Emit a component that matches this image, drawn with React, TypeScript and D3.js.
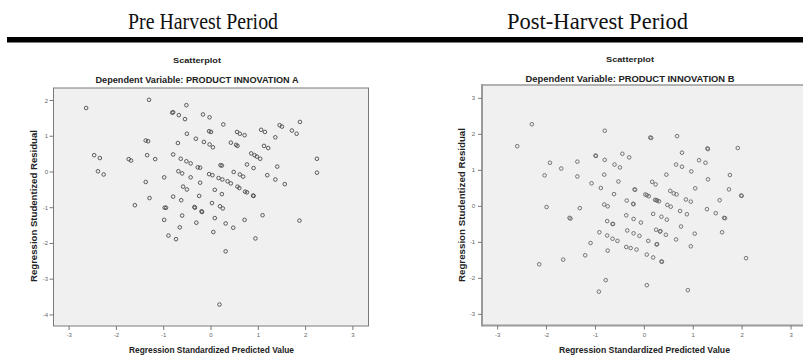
import React from "react";
import * as d3 from "d3";

// ---------- DATA ----------
const headers = ["Pre Harvest Period", "Post-Harvest Period"];
const chartTitle = "Scatterplot";
const depVarA = "Dependent Variable: PRODUCT INNOVATION A";
const depVarB = "Dependent Variable: PRODUCT INNOVATION B";
const xLabel = "Regression Standardized Predicted Value";
const yLabel = "Regression Studentized Residual";
const xTicks = [-3, -2, -1, 0, 1, 2, 3];
const yTicksPre = [2, 1, 0, -1, -2, -3, -4];
const yTicksPost = [3, 2, 1, 0, -1, -2, -3];

const prePoints: [number, number][] = [
  [-2.64, 1.79], [-1.31, 2.02], [-0.52, 1.87], [-0.82, 1.66], [-0.8, 1.67], [-0.68, 1.59],
  [-0.55, 1.48], [-0.17, 1.61], [-0.03, 1.53], [0.26, 1.33], [-0.51, 1.07], [-0.7, 0.81],
  [-0.32, 0.93], [-0.15, 0.84], [-0.03, 0.77], [0.04, 0.69], [-0.04, 1.14], [0.0, 1.12],
  [0.55, 1.12], [0.61, 1.07], [0.71, 1.03], [0.42, 0.82], [0.53, 0.76], [0.56, 0.73],
  [1.06, 1.18], [1.14, 1.12], [1.36, 0.97], [1.45, 1.31], [1.5, 1.27], [1.71, 1.16],
  [1.81, 1.07], [1.88, 1.4], [1.12, 0.73], [1.21, 0.67], [-1.38, 0.88], [-1.33, 0.86],
  [-2.47, 0.47], [-2.35, 0.39], [-2.39, 0.02], [-2.27, -0.07], [-1.74, 0.36], [-1.69, 0.32],
  [-1.35, 0.47], [-1.18, 0.36], [-0.8, 0.49], [-0.64, 0.37], [-0.52, 0.3], [-0.43, 0.24],
  [-0.28, 0.13], [-0.23, 0.12], [-0.69, 0.02], [-0.61, -0.04], [-0.43, -0.15], [-0.04, -0.06],
  [0.03, -0.09], [-0.23, -0.3], [0.2, 0.19], [0.23, 0.18], [0.48, 0.0], [0.61, -0.07],
  [0.68, -0.13], [0.85, 0.52], [0.92, 0.47], [0.97, 0.43], [1.04, 0.37], [0.76, 0.21],
  [0.9, 0.11], [1.4, 0.15], [1.19, -0.09], [1.36, -0.21], [1.56, -0.34], [2.24, 0.37],
  [2.24, -0.02], [-1.38, -0.28], [-0.99, -0.15], [0.16, -0.17], [0.24, -0.21], [0.35, -0.26],
  [0.42, -0.32], [0.56, -0.41], [0.6, -0.45], [0.72, -0.55], [0.76, -0.57], [0.89, -0.66],
  [0.9, -0.67], [-0.59, -0.41], [-0.51, -0.49], [0.08, -0.5], [0.23, -0.62], [-1.3, -0.73],
  [-0.8, -0.69], [-0.63, -0.79], [-0.25, -0.67], [-1.61, -0.93], [0.02, -0.87], [0.19, -0.96],
  [0.25, -1.02], [-0.98, -1.0], [-0.95, -1.0], [-0.35, -0.98], [-0.34, -1.0], [-0.2, -1.1],
  [-0.19, -1.12], [-0.61, -1.22], [-0.99, -1.34], [-0.31, -1.42], [0.08, -1.29], [0.31, -1.44],
  [0.47, -1.56], [0.71, -1.34], [1.09, -1.21], [1.87, -1.36], [-0.66, -1.55], [0.05, -1.68],
  [-0.9, -1.78], [-0.74, -1.88], [0.94, -1.86], [0.31, -2.22], [0.18, -3.71],
];

const postPoints: [number, number][] = [
  [-2.6, 1.67], [-2.3, 2.28], [-0.81, 2.1], [0.12, 1.91], [0.14, 1.9], [0.67, 1.95],
  [1.91, 1.62], [1.29, 1.61], [1.3, 1.59], [-1.93, 1.21], [-1.7, 1.05], [-2.04, 0.86],
  [-1.37, 1.24], [-1.37, 0.83], [-1.0, 1.41], [-0.99, 1.4], [-0.81, 1.29], [-0.45, 1.46],
  [-0.31, 1.36], [-0.61, 1.16], [-0.5, 1.08], [-0.82, 0.88], [-1.08, 0.64], [-0.89, 0.51],
  [-0.53, 0.69], [-0.62, 0.34], [-0.36, 0.16], [-0.23, 0.07], [-0.22, 0.06], [-0.2, 0.47],
  [-0.19, 0.46], [0.02, 0.33], [0.05, 0.31], [0.09, 0.28], [0.16, 0.68], [0.23, 0.61],
  [0.45, 0.88], [0.65, 1.16], [0.77, 1.1], [0.77, 1.49], [0.96, 0.97], [1.12, 1.28],
  [1.25, 1.21], [1.3, 0.75], [1.04, 0.5], [0.53, 0.43], [0.6, 0.36], [0.66, 0.33],
  [0.85, 0.19], [0.95, 0.13], [1.75, 0.87], [1.73, 0.47], [1.54, 0.17], [1.98, 0.3],
  [1.99, 0.29], [0.22, 0.18], [0.25, 0.17], [0.26, 0.16], [0.3, 0.14], [0.47, 0.04],
  [0.54, -0.01], [0.73, -0.13], [0.87, -0.22], [1.28, -0.08], [1.46, -0.19], [1.63, -0.32],
  [1.65, -0.33], [1.59, -0.72], [2.08, -1.44], [-2.0, -0.02], [-1.32, -0.05], [-1.53, -0.32],
  [-1.51, -0.34], [-0.82, 0.05], [-0.75, 0.0], [-0.37, -0.25], [-0.22, -0.35], [-0.07, -0.45],
  [-0.76, -0.41], [-0.65, -0.49], [-0.64, -0.49], [0.18, -0.21], [0.35, -0.29], [0.46, -0.37],
  [0.75, -0.56], [-0.35, -0.67], [-0.22, -0.75], [-0.1, -0.82], [0.24, -0.65], [0.32, -0.7],
  [0.33, -0.69], [0.44, -0.79], [1.03, -0.76], [-0.92, -0.72], [-0.76, -0.81], [-0.65, -0.9],
  [-0.55, -0.96], [-1.1, -1.02], [0.08, -0.96], [0.25, -1.06], [0.26, -1.05], [0.65, -0.92],
  [-0.37, -1.13], [-0.28, -1.16], [-0.16, -1.2], [0.95, -1.11], [-1.21, -1.36], [-0.75, -1.23],
  [0.05, -1.34], [0.18, -1.42], [0.35, -1.53], [0.36, -1.54], [-1.66, -1.48], [-2.15, -1.61],
  [-0.79, -2.05], [0.05, -2.19], [-0.93, -2.37], [0.89, -2.33],
];

// ---------- PANEL ----------
type PanelProps = {
  points: [number, number][];
  yTicks: number[];
  xDomain: [number, number];
  yDomain: [number, number];
  left: number; right: number; top: number; bottom: number;
  title: string; sub: string;
  cx: number; titleY: number; subY: number; subLen: number;
  yLabelX: number; yLabelY: number; yLabelLen: number;
  xLabelX: number; xLabelLen: number;
  tickLabelX: number; xTickLabelY: number;
  border: "pre" | "post";
  markColor: string;
};

function Panel(p: PanelProps) {
  const x = d3.scaleLinear().domain(p.xDomain).range([p.left, p.right]);
  const y = d3.scaleLinear().domain(p.yDomain).range([p.bottom, p.top]);
  const font = "'Liberation Sans', Arial, sans-serif";
  return (
    <g>
      <text x={p.cx} y={p.titleY} textAnchor="middle" fontFamily={font} fontWeight="bold"
        fontSize={7.5} fill="#222" textLength={48} lengthAdjust="spacingAndGlyphs">{p.title}</text>
      <text x={p.cx} y={p.subY} textAnchor="middle" fontFamily={font} fontWeight="bold"
        fontSize={9} fill="#222" textLength={p.subLen} lengthAdjust="spacingAndGlyphs">{p.sub}</text>
      <rect x={p.left} y={p.top} width={p.right - p.left} height={p.bottom - p.top}
        fill="#f0f0f0" stroke="none" />
      {p.border === "pre" ? (
        <rect x={p.left} y={p.top} width={p.right - p.left} height={p.bottom - p.top}
          fill="none" stroke="#7a7a7a" strokeWidth={1} />
      ) : (
        <g stroke="#9a9a9a">
          <line x1={p.left} x2={p.right} y1={p.top} y2={p.top} strokeWidth={1.5} />
          <line x1={p.left} x2={p.right} y1={p.bottom} y2={p.bottom} strokeWidth={2} />
          <line x1={p.left} x2={p.left} y1={p.top - 1} y2={p.bottom + 1} strokeWidth={2} />
        </g>
      )}
      {p.yTicks.map((t) => (
        <g key={"y" + t}>
          <line x1={p.left - 4} x2={p.left} y1={y(t)} y2={y(t)} stroke="#777" strokeWidth={1} />
          <text x={p.tickLabelX} y={y(t) + 2} textAnchor="end" fontFamily={font} fontSize={6}
            fill="#666">{t}</text>
        </g>
      ))}
      {xTicks.map((t) => (
        <g key={"x" + t}>
          <line x1={x(t)} x2={x(t)} y1={p.bottom} y2={p.bottom + 4} stroke="#777" strokeWidth={1} />
          <text x={x(t)} y={p.xTickLabelY} textAnchor="middle" fontFamily={font} fontSize={6}
            fill="#666">{t}</text>
        </g>
      ))}
      {p.points.map((d, i) => (
        <circle key={i} cx={x(d[0])} cy={y(d[1])} r={1.8} fill="none" stroke={p.markColor}
          strokeWidth={0.9} />
      ))}
      <text transform={`translate(${p.yLabelX},${p.yLabelY}) rotate(-90)`} textAnchor="middle"
        fontFamily={font} fontWeight="bold" fontSize={8.5} fill="#222" textLength={p.yLabelLen}
        lengthAdjust="spacingAndGlyphs">{yLabel}</text>
      <text x={p.xLabelX} y={353} textAnchor="middle" fontFamily={font} fontWeight="bold"
        fontSize={8.5} fill="#222" textLength={p.xLabelLen}
        lengthAdjust="spacingAndGlyphs">{xLabel}</text>
    </g>
  );
}

export default function App() {
  const serif = "'Liberation Serif', 'Times New Roman', serif";
  return (
    <svg width={803} height={358} style={{ position: "absolute", left: 0, top: 0, background: "#fff" }}>
      <rect x={0} y={0} width={803} height={358} fill="#fff" />
      <text x={203} y={29} textAnchor="middle" fontFamily={serif} fontSize={23} fill="#111"
        textLength={150} lengthAdjust="spacingAndGlyphs">{headers[0]}</text>
      <text x={597.5} y={29} textAnchor="middle" fontFamily={serif} fontSize={23} fill="#111"
        textLength={181} lengthAdjust="spacingAndGlyphs">{headers[1]}</text>
      <rect x={7} y={37} width={796} height={5.5} fill="#000" />
      <Panel
        points={prePoints} yTicks={yTicksPre}
        xDomain={[-3.33, 3.33]} yDomain={[-4.31, 2.35]}
        left={53.5} right={368.5} top={88} bottom={326}
        title={chartTitle} sub={depVarA}
        cx={197} titleY={63} subY={83} subLen={203}
        yLabelX={37} yLabelY={206} yLabelLen={152}
        xLabelX={211.5} xLabelLen={165}
        tickLabelX={48} xTickLabelY={337}
        border="pre" markColor="#4a4a4a"
      />
      <Panel
        points={postPoints} yTicks={yTicksPost}
        xDomain={[-3.32, 3.32]} yDomain={[-3.31, 3.37]}
        left={482} right={806.7} top={85} bottom={325.5}
        title={chartTitle} sub={depVarB}
        cx={630} titleY={61.5} subY={81.5} subLen={209}
        yLabelX={465} yLabelY={205} yLabelLen={154}
        xLabelX={644.5} xLabelLen={171}
        tickLabelX={475} xTickLabelY={337}
        border="post" markColor="#666"
      />
    </svg>
  );
}
